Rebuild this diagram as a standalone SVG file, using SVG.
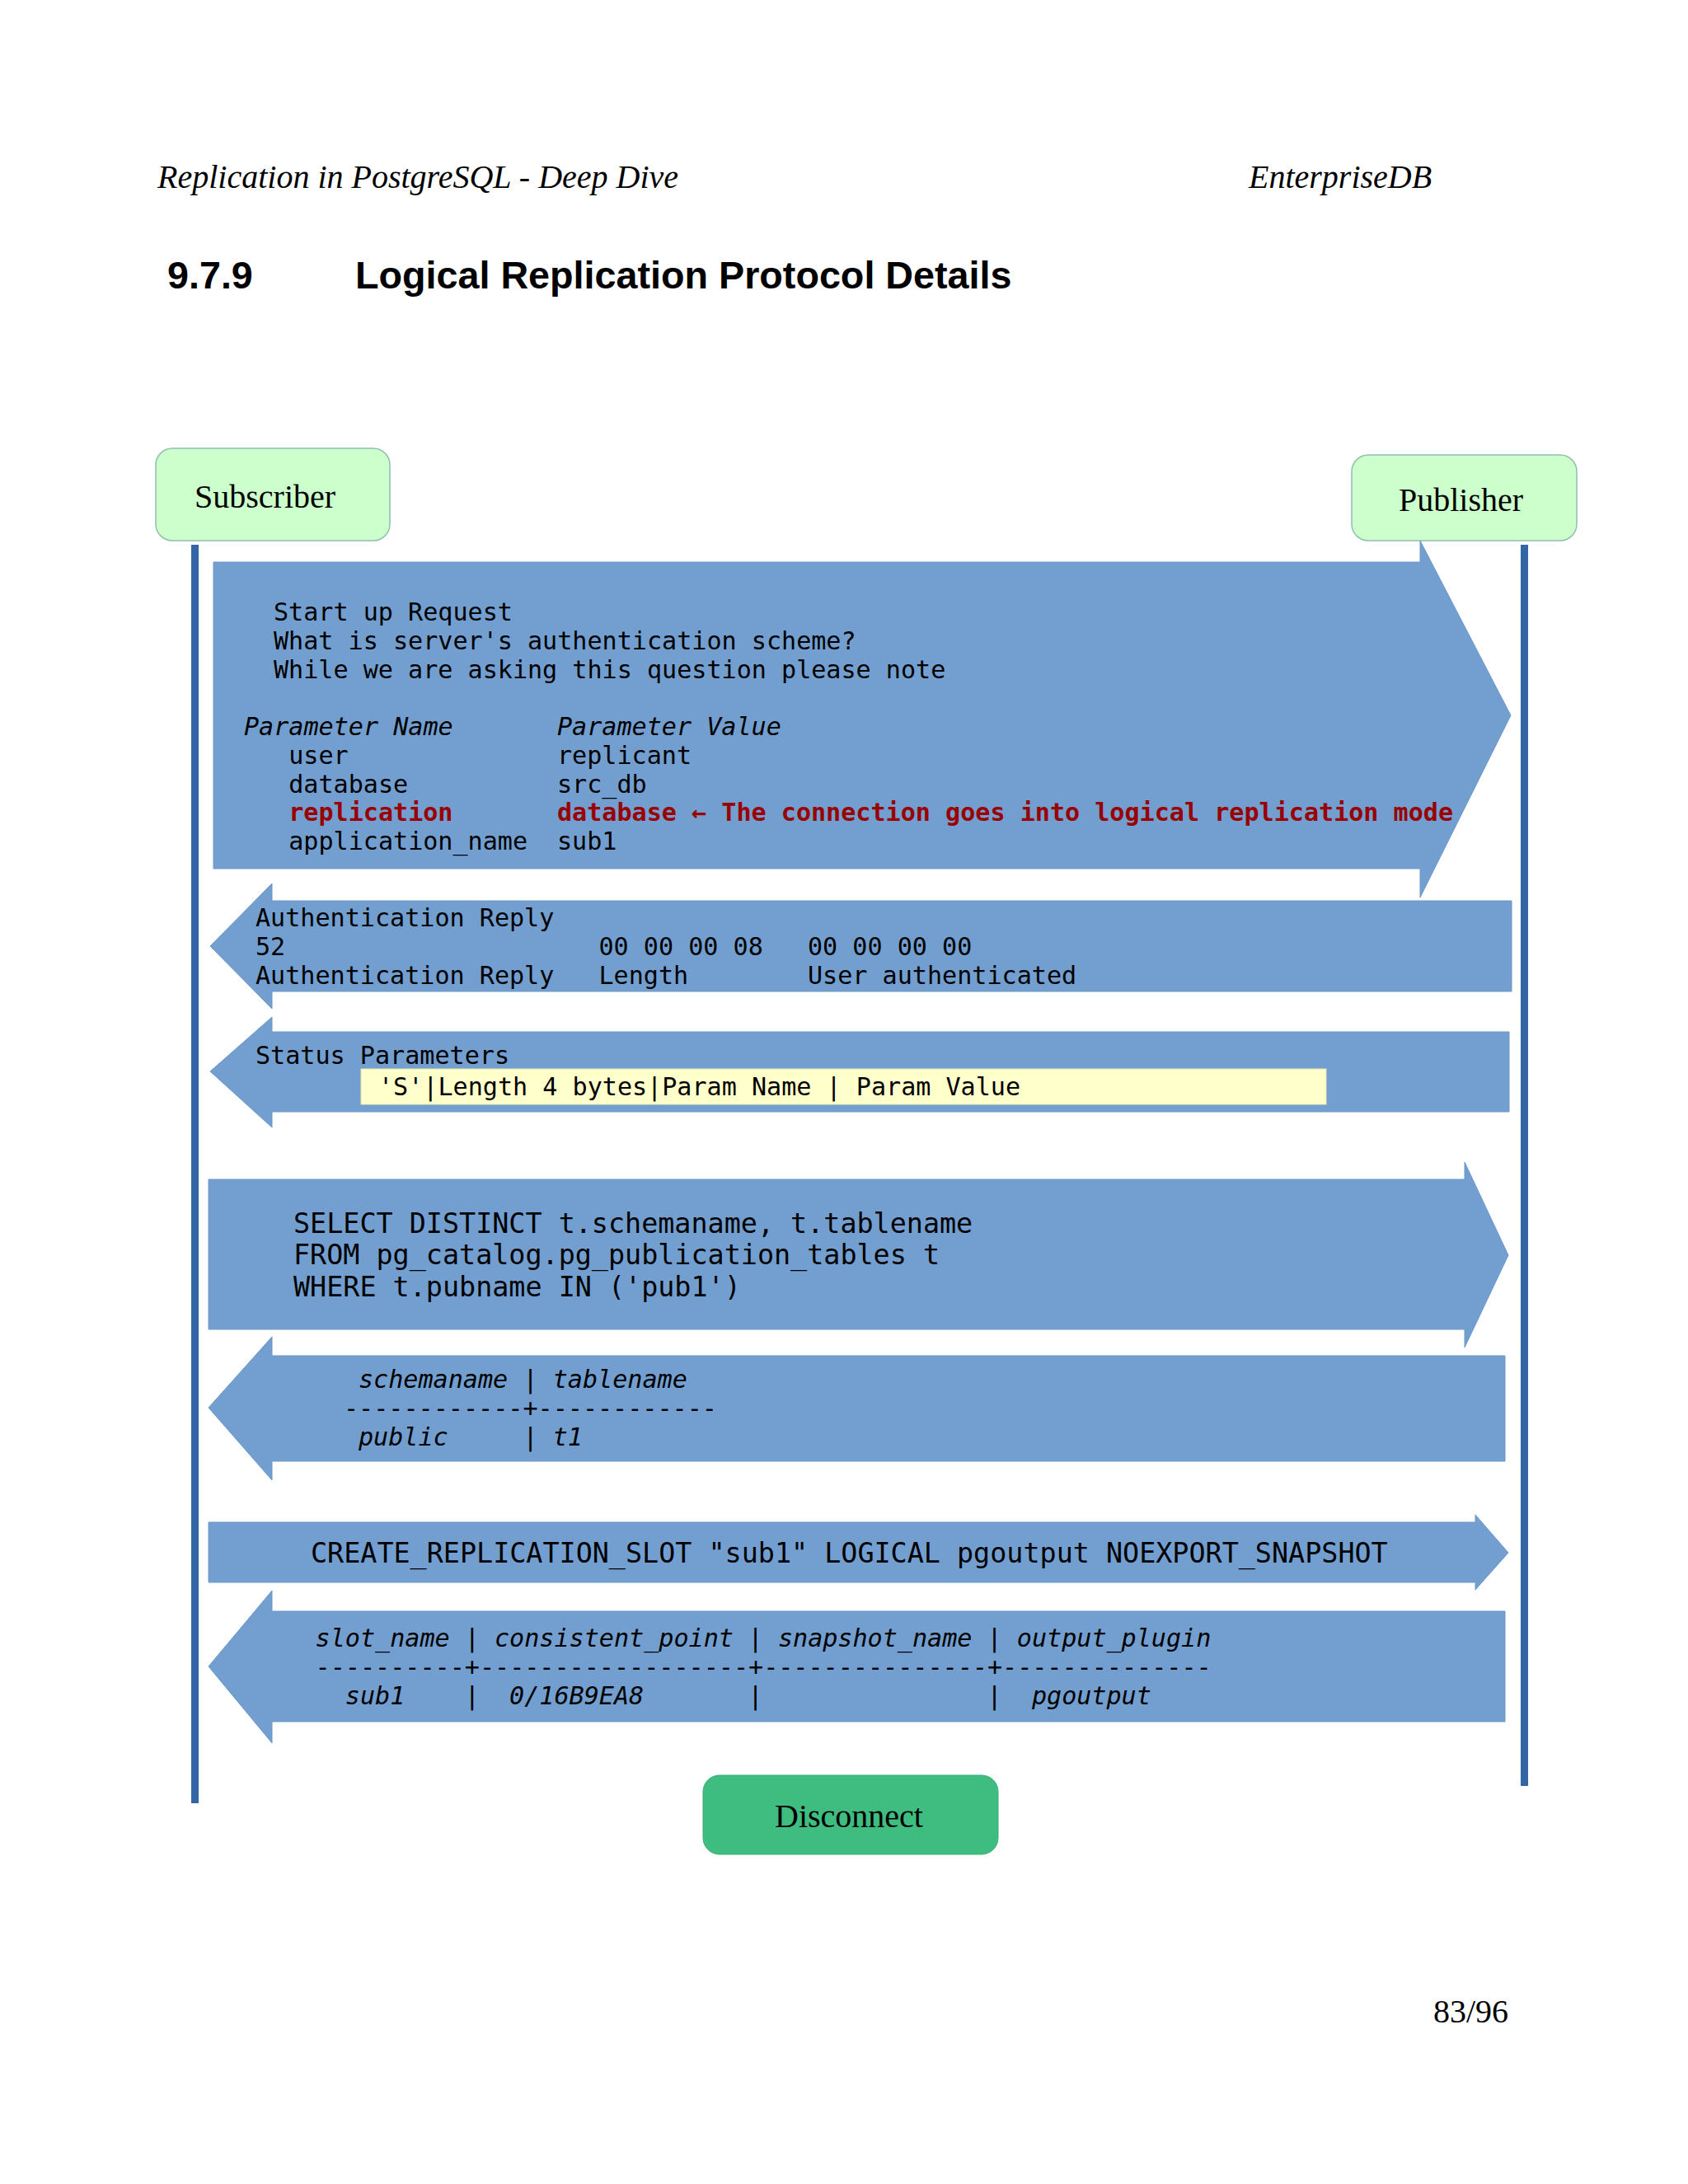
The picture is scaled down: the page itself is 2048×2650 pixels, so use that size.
<svg xmlns="http://www.w3.org/2000/svg" width="2048" height="2650" viewBox="0 0 2048 2650">
<style>
  .serif { font-family: "Liberation Serif", "Times New Roman", serif; fill: #000; }
  .sans { font-family: "Liberation Sans", Arial, sans-serif; font-weight: bold; fill: #000; }
  .mono { font-family: "DejaVu Sans Mono", monospace; font-size: 30.1px; fill: #000; white-space: pre; }
  .mono33 { font-family: "DejaVu Sans Mono", monospace; font-size: 33.4px; fill: #000; white-space: pre; }
  .it { font-style: italic; }
  .red { fill: #990000; font-weight: bold; }
  .arrow { fill: #729fcf; stroke: #6c99cb; stroke-width: 1; }
  .life { fill: #3465a4; }
  .peer { fill: #ccffcc; stroke: #8fbfae; stroke-width: 1.5; }
  .disc { fill: #3fbc80; stroke: #3aae76; stroke-width: 1; }
  .hl { fill: #ffffcc; stroke: #e6e6b0; stroke-width: 1; }
</style>
<rect x="0" y="0" width="2048" height="2650" fill="#ffffff"/>

<g id="page-header">
  <text class="serif" x="191" y="228" font-size="40" font-style="italic">Replication in PostgreSQL - Deep Dive</text>
  <text class="serif" x="1515" y="228" font-size="40" font-style="italic">EnterpriseDB</text>
  <text class="sans" x="203" y="350" font-size="46.7">9.7.9</text>
  <text class="sans" x="431" y="350" font-size="46.7">Logical Replication Protocol Details</text>
</g>

<g id="subscriber">
  <rect class="peer" x="189" y="544" width="284" height="112" rx="20" ry="20"/>
  <text class="serif" x="236" y="616" font-size="40">Subscriber</text>
</g>

<g id="publisher">
  <rect class="peer" x="1640" y="552" width="273" height="104" rx="20" ry="20"/>
  <text class="serif" x="1697" y="620" font-size="40">Publisher</text>
</g>

<g id="connectors">
  <rect class="life" x="232" y="661" width="9" height="1527"/>
  <rect class="life" x="1845" y="661" width="9" height="1506"/>

  <g id="msg-startup">
    <polygon class="arrow" points="259,682 1723,682 1723,656 1833,868 1723,1089 1723,1054 259,1054"/>
    <text class="mono" x="332" y="753">Start up Request</text>
    <text class="mono" x="332" y="788">What is server's authentication scheme?</text>
    <text class="mono" x="332" y="823">While we are asking this question please note</text>
    <text class="mono it" x="296" y="892">Parameter Name</text>
    <text class="mono it" x="676" y="892">Parameter Value</text>
    <text class="mono" x="350.2" y="927">user</text>
    <text class="mono" x="676" y="927">replicant</text>
    <text class="mono" x="350.2" y="962">database</text>
    <text class="mono" x="676" y="962">src_db</text>
    <text class="mono red" x="350.2" y="996">replication</text>
    <text class="mono red" x="676" y="996">database ← The connection goes into logical replication mode</text>
    <text class="mono" x="350.2" y="1031">application_name</text>
    <text class="mono" x="676" y="1031">sub1</text>
  </g>

  <g id="msg-auth-reply">
    <polygon class="arrow" points="1834,1093 330,1093 330,1072 255,1148 330,1224 330,1203 1834,1203"/>
    <text class="mono" x="310" y="1124">Authentication Reply</text>
    <text class="mono" x="310" y="1159">52</text>
    <text class="mono" x="726.5" y="1159">00 00 00 08</text>
    <text class="mono" x="980" y="1159">00 00 00 00</text>
    <text class="mono" x="310" y="1194">Authentication Reply</text>
    <text class="mono" x="726.5" y="1194">Length</text>
    <text class="mono" x="980" y="1194">User authenticated</text>
  </g>

  <g id="msg-status">
    <polygon class="arrow" points="1831,1252 330,1252 330,1234 255,1300 330,1368 330,1349 1831,1349"/>
    <text class="mono" x="310" y="1291">Status Parameters</text>
    <rect class="hl" x="438" y="1297" width="1171" height="43"/>
    <text class="mono" x="459" y="1329">'S'|Length 4 bytes|Param Name | Param Value</text>
  </g>

  <g id="msg-select">
    <polygon class="arrow" points="253,1431 1777,1431 1777,1410 1830,1523 1777,1635 1777,1613 253,1613"/>
    <text class="mono33" x="356" y="1496">SELECT DISTINCT t.schemaname, t.tablename</text>
    <text class="mono33" x="356" y="1534">FROM pg_catalog.pg_publication_tables t</text>
    <text class="mono33" x="356" y="1573">WHERE t.pubname IN ('pub1')</text>
  </g>

  <g id="msg-tables">
    <polygon class="arrow" points="1826,1645 330,1645 330,1622 253,1708 330,1796 330,1773 1826,1773"/>
    <text class="mono it" x="435" y="1684">schemaname</text>
    <text class="mono" x="634.5" y="1684">|</text>
    <text class="mono it" x="670.7" y="1684">tablename</text>
    <text class="mono" x="417" y="1719">------------+------------</text>
    <text class="mono it" x="435" y="1754">public</text>
    <text class="mono" x="634.5" y="1754">|</text>
    <text class="mono it" x="670.7" y="1754">t1</text>
  </g>

  <g id="msg-create-slot">
    <polygon class="arrow" points="253,1847 1790,1847 1790,1838 1830,1884 1790,1929 1790,1920 253,1920"/>
    <text class="mono33" x="377" y="1896">CREATE_REPLICATION_SLOT "sub1" LOGICAL pgoutput NOEXPORT_SNAPSHOT</text>
  </g>

  <g id="msg-slot-result">
    <polygon class="arrow" points="1826,1955 330,1955 330,1930 253,2022 330,2115 330,2089 1826,2089"/>
    <text class="mono it" x="382.6" y="1998">slot_name</text>
    <text class="mono" x="563.8" y="1998">|</text>
    <text class="mono it" x="600" y="1998">consistent_point</text>
    <text class="mono" x="907.6" y="1998">|</text>
    <text class="mono it" x="943.9" y="1998">snapshot_name</text>
    <text class="mono" x="1197.5" y="1998">|</text>
    <text class="mono it" x="1233.8" y="1998">output_plugin</text>
    <text class="mono" x="382.6" y="2033">----------+------------------+---------------+--------------</text>
    <text class="mono it" x="418.8" y="2068">sub1</text>
    <text class="mono" x="563.8" y="2068">|</text>
    <text class="mono it" x="618.1" y="2068">0/16B9EA8</text>
    <text class="mono" x="907.6" y="2068">|</text>
    <text class="mono" x="1197.5" y="2068">|</text>
    <text class="mono it" x="1251.9" y="2068">pgoutput</text>
  </g>
</g>

<g id="disconnect">
  <rect class="disc" x="853" y="2154" width="358" height="96" rx="20" ry="20"/>
  <text class="serif" x="1030" y="2217" font-size="40" text-anchor="middle">Disconnect</text>
</g>

<g id="page-footer">
  <text class="serif" x="1739" y="2454" font-size="40">83/96</text>
</g>
</svg>
